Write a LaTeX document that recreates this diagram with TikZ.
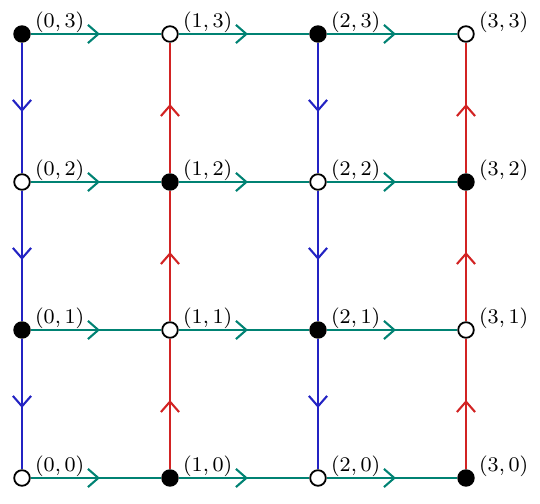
\documentclass[tikz,border=0pt]{standalone}
\usepackage{tikz}
\definecolor{hline}{RGB}{0,130,115}
\definecolor{downline}{RGB}{35,35,195}
\definecolor{upline}{RGB}{210,35,35}
\usetikzlibrary{arrows.meta, decorations.markings}

\begin{document}
\begin{tikzpicture}[x=2cm, y=2cm, line width=0.7pt,
    dot/.style={circle, draw=black, inner sep=0pt, minimum size=6pt, fill=#1},
    coordlbl/.style={font=\footnotesize, anchor=west, inner sep=0pt},
    midarrow/.style={postaction={decorate}, decoration={markings,
        mark=at position 0.53 with {\arrow[line width=0.8pt]{Straight Barb[length=4pt, width=7pt]}}}},
    hedge/.style={hline, midarrow},
    downedge/.style={downline, midarrow},
    upedge/.style={upline, midarrow}]
    \useasboundingbox (-0.1486,-0.169) rectangle (3.5,3.2297);
    % Các đỉnh của lưới
    \foreach \i in {0,...,3} {
        \foreach \j in {0,...,3} {
            \ifodd\numexpr\i+\j\relax \def\dotfill{black}\else\def\dotfill{white}\fi
            \node[dot=\dotfill] (p\i\j) at (\i,\j) {};
            \node[coordlbl] (l\i\j) at ([xshift=4.7pt, yshift=4.4pt]p\i\j.center) {$(\i,\j)$};
        }
    }
    % Cạnh nằm ngang
    \foreach \j in {0,...,3} {
        \foreach \i [evaluate=\i as \k using int(\i+1)] in {0,1,2} {
            \draw[hedge] (p\i\j) -- (p\k\j);
        }
    }
    % Cạnh thẳng đứng
    \foreach \j [evaluate=\j as \k using int(\j+1)] in {0,1,2} {
        \draw[downedge] (p0\k) -- (p0\j);
        \draw[upedge] (p1\j) -- (p1\k);
        \draw[downedge] (p2\k) -- (p2\j);
        \draw[upedge] (p3\j) -- (p3\k);
    }
\end{tikzpicture}
\end{document}
